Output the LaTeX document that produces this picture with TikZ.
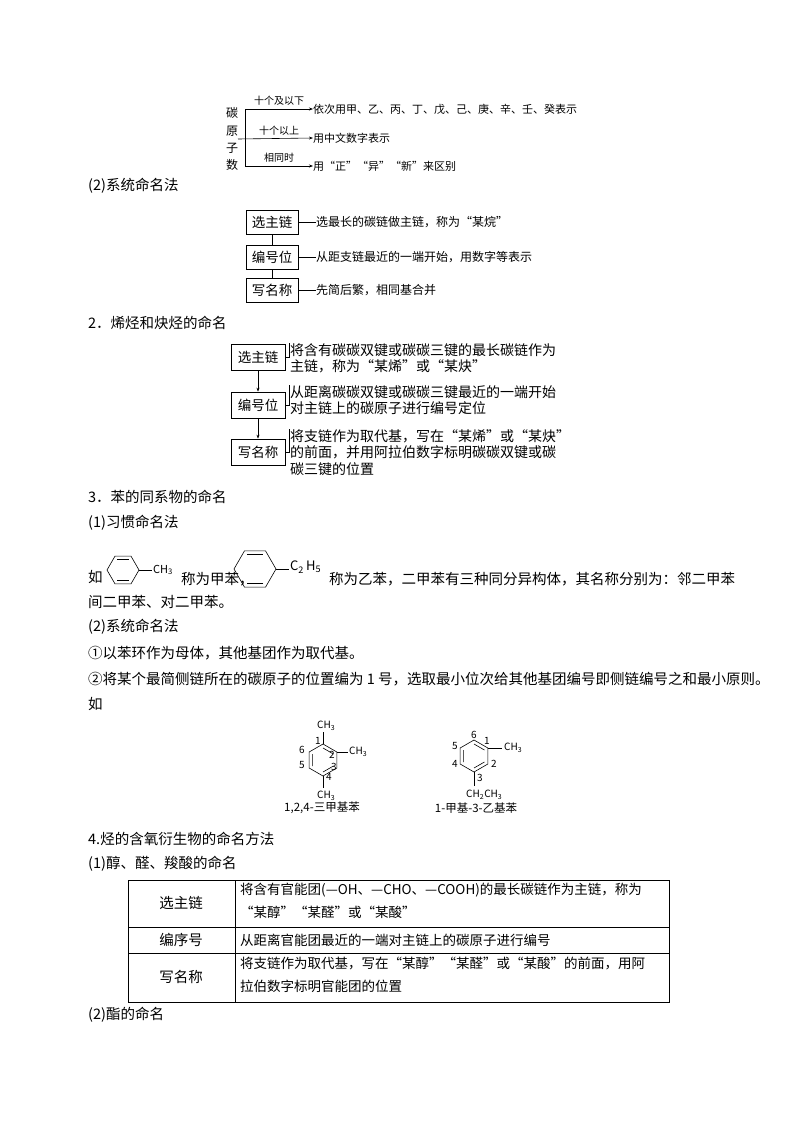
\documentclass[tikz,border=0pt]{standalone}
\usepackage{fontspec}
\setmainfont{Noto Sans CJK SC}
\usetikzlibrary{arrows.meta}
\begin{document}
\begin{tikzpicture}[x=1pt,y=-1pt,
  txt/.style={anchor=west,inner sep=0pt,font=\fontsize{14.5}{17}\selectfont},
  sm/.style={anchor=west,inner sep=0pt,font=\fontsize{12}{15}\selectfont},
  tiny/.style={inner sep=0pt,font=\fontsize{10}{12}\selectfont},
  bx/.style={draw,line width=0.7pt,inner sep=0pt,minimum height=24pt,font=\fontsize{13.5}{16}\selectfont},
  ln/.style={line width=0.6pt},
  arr/.style={line width=0.6pt,-{Stealth[length=4pt,width=3pt]}},
  bond/.style={line width=0.6pt}]
\useasboundingbox (0,0) rectangle (800,1132);
% ---- top tree
\node[sm] (c1) at (226,113) {碳};
\node[sm] (c2) at (226,131) {原};
\node[sm] (c3) at (226,148) {子};
\node[sm] (c4) at (226,165) {数};
\coordinate (v1) at (245,109);
\coordinate (v3) at (245,166);
\coordinate (m) at (238,139);
\node[sm,font=\fontsize{11}{14}\selectfont] (t1) at (313,109) {依次用甲、乙、丙、丁、戊、己、庚、辛、壬、癸表示};
\node[sm,font=\fontsize{11}{14}\selectfont] (t2) at (313,138) {用中文数字表示};
\node[sm,font=\fontsize{11}{14}\selectfont] (t3) at (313,166) {用“正”“异”“新”来区别};
\draw[ln] (v1)--(v3);
\draw[arr] (v1)--(t1.west);
\draw[arr] (m)--(t2.west);
\draw[arr] (v3)--(t3.west);
\node[tiny] (l1) at (279,101) {十个及以下};
\node[tiny] (l2) at (279,131) {十个以上};
\node[tiny] (l3) at (279,158) {相同时};
% ---- (2)
\node[txt] (h1) at (88,186) {(2)系统命名法};
\node[bx,minimum width=52pt] (b1) at (272,222) {选主链};
\node[bx,minimum width=52pt] (b2) at (272,257) {编号位};
\node[bx,minimum width=52pt] (b3) at (272,290) {写名称};
\draw[ln] (b1)--(b2); \draw[ln] (b2)--(b3);
\node[sm] (d1) at (316,222) {选最长的碳链做主链，称为“某烷”};
\node[sm] (d2) at (316,257) {从距支链最近的一端开始，用数字等表示};
\node[sm] (d3) at (316,290) {先简后繁，相同基合并};
\draw[ln] (b1.east)--(d1.west); \draw[ln] (b2.east)--(d2.west); \draw[ln] (b3.east)--(d3.west);
% ---- 2.
\node[txt] (h2) at (88,323) {2．烯烃和炔烃的命名};
\node[bx,minimum width=54pt,minimum height=26pt] (e1) at (258,357) {选主链};
\node[bx,minimum width=54pt,minimum height=26pt] (e2) at (258,405) {编号位};
\node[bx,minimum width=54pt,minimum height=26pt] (e3) at (258,452) {写名称};
\draw[arr] (e1)--(e2); \draw[arr] (e2)--(e3);
\tikzset{para/.style={anchor=north west,inner sep=0pt,align=left,font=\fontsize{14}{16.5}\selectfont}}
\node[para] (f1) at (290,343) {将含有碳碳双键或碳碳三键的最长碳链作为\\主链，称为“某烯”或“某炔”};
\node[para] (f2) at (290,385) {从距离碳碳双键或碳碳三键最近的一端开始\\对主链上的碳原子进行编号定位};
\node[para] (f3) at (290,429) {将支链作为取代基，写在“某烯”或“某炔”\\的前面，并用阿拉伯数字标明碳碳双键或碳\\碳三键的位置};
\draw[ln] (e1.east)--++(4,0)coordinate(g1)--(g1|-f1.north);
\draw[ln] (e2.east)--++(4,0)coordinate(g2)--(g2|-f2.north);
\draw[ln] (e3.east)--++(4,0)coordinate(g3)--(g3|-f3.north);
% ---- 3.
\node[txt] (h3) at (88,497) {3．苯的同系物的命名};
\node[txt] (h4) at (88,523) {(1)习惯命名法};
\node[txt] (ru) at (88,577) {如};
% toluene ring
\begin{scope}[shift={(123,570)}]
\draw[bond] (0:16)--(60:16)--(120:16)--(180:16)--(240:16)--(300:16)--cycle;
\draw[bond] (60:12)--(120:12) (240:12)--(300:12);
\end{scope}
\draw[bond] (139,570)--(152,570);
\node[anchor=west,inner sep=0pt,font=\fontsize{11}{13}\selectfont] (ch3a) at (153,570) {CH\textsubscript{3}};
\node[txt] (tt1) at (181,579) {称为甲苯，};
\begin{scope}[shift={(255,569)}]
\draw[bond] (0:21)--(60:21)--(120:21)--(180:21)--(240:21)--(300:21)--cycle;
\draw[bond] (60:16.5)--(120:16.5) (240:16.5)--(300:16.5);
\end{scope}
\draw[bond] (276,569)--(289,569);
\node[anchor=west,inner sep=0pt,font=\fontsize{13}{13}\selectfont] (c2h5) at (290,567) {C\textsubscript{2}\,H\textsubscript{5}};
\node[txt] (tt2) at (329,579) {称为乙苯，二甲苯有三种同分异构体，其名称分别为：邻二甲苯};
\node[txt] (tt3) at (88,602) {间二甲苯、对二甲苯。};
\node[txt] (h5) at (88,627) {(2)系统命名法};
\node[txt] (p1) at (88,653) {①以苯环作为母体，其他基团作为取代基。};
\node[txt] (p2) at (88,679) {②将某个最简侧链所在的碳原子的位置编为 1 号，选取最小位次给其他基团编号即侧链编号之和最小原则。};
\node[txt] (p3) at (88,704) {如};
% left structure
\begin{scope}[shift={(323,760)}]
\draw[bond] (90:16)--(150:16)--(210:16)--(270:16)--(330:16)--(30:16)--cycle;
\draw[bond] (150:12)--(210:12) (30:12)--(90:12) (270:12)--(330:12);
\draw[bond] (0,-16)--(0,-28); \draw[bond] (0,16)--(0,28);
\draw[bond] (14,-8)--(25,-8);
\end{scope}
\node[tiny] (a1) at (318,741) {1};
\node[tiny] (a2) at (332,755) {2};
\node[tiny] (a3) at (334,767) {3};
\node[tiny] (a4) at (329,777) {4};
\node[tiny] (a5) at (302,765) {5};
\node[tiny] (a6) at (302,750) {6};
\node[tiny,anchor=west] (m1) at (317,726) {CH\textsubscript{3}};
\node[tiny,anchor=west] (m2) at (349,752) {CH\textsubscript{3}};
\node[tiny,anchor=west] (m3) at (317,796) {CH\textsubscript{3}};
% right structure
\begin{scope}[shift={(474,756)}]
\draw[bond] (90:16)--(150:16)--(210:16)--(270:16)--(330:16)--(30:16)--cycle;
\draw[bond] (150:12)--(210:12) (30:12)--(90:12) (270:12)--(330:12);
\draw[bond] (14,-8)--(28,-8); \draw[bond] (0,16)--(0,30);
\end{scope}
\node[tiny] (r6) at (474,735) {6};
\node[tiny] (r1) at (487,741) {1};
\node[tiny] (r2) at (494,764) {2};
\node[tiny] (r3) at (480,778) {3};
\node[tiny] (r4) at (455,764) {4};
\node[tiny] (r5) at (455,746) {5};
\node[tiny,anchor=west] (n1) at (504,748) {CH\textsubscript{3}};
\node[tiny,anchor=west] (n2) at (466,795) {CH\textsubscript{2}CH\textsubscript{3}};
\node[tiny,font=\fontsize{11.5}{13}\selectfont] (s1) at (322,808) {1,2,4-三甲基苯};
\node[tiny,font=\fontsize{11.5}{13}\selectfont] (s2) at (476,808) {1-甲基-3-乙基苯};
% ---- 4.
\node[txt] (h6) at (88,839) {4.烃的含氧衍生物的命名方法};
\node[txt] (h7) at (88,864) {(1)醇、醛、羧酸的命名};
\draw[line width=0.6pt] (128,880) rectangle (669,1002);
\draw[line width=0.6pt] (128,927)--(669,927) (128,953)--(669,953) (235,880)--(235,1002);
\node[txt,anchor=center] (k1) at (181,903) {选主链};
\node[txt,anchor=center] (k2) at (181,940) {编序号};
\node[txt,anchor=center] (k3) at (181,977) {写名称};
\tikzset{cell/.style={anchor=north west,inner sep=0pt,align=left,font=\fontsize{13.5}{23}\selectfont}}
\node[cell] (v1t) at (240,883) {将含有官能团(—OH、—CHO、—COOH)的最长碳链作为主链，称为\\“某醇”“某醛”或“某酸”};
\node[txt,font=\fontsize{13.5}{16}\selectfont] (v2t) at (240,940) {从距离官能团最近的一端对主链上的碳原子进行编号};
\node[cell] (v3t) at (240,957) {将支链作为取代基，写在“某醇”“某醛”或“某酸”的前面，用阿\\拉伯数字标明官能团的位置};
\node[txt] (h8) at (88,1015) {(2)酯的命名};
\end{tikzpicture}
\end{document}
